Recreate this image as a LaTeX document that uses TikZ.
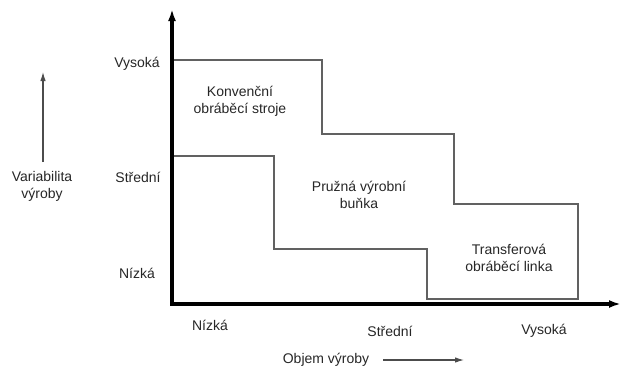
\documentclass[tikz,border=0pt]{standalone}
\usepackage{fontspec}
\setmainfont{Liberation Sans}
\usetikzlibrary{arrows.meta}
\begin{document}
\begin{tikzpicture}[x=1pt,y=-1pt,
  lbl/.style={inner sep=0pt,align=center,font=\fontsize{14}{17}\selectfont,text=black!85},
  stair/.style={draw=black!62,line width=1.3pt,line join=miter},
  axis/.style={draw=black,line width=3.2pt,line join=miter,{Latex[length=12pt,width=8pt]}-{Latex[length=12pt,width=8pt]}},
  small/.style={draw=black!70,line width=1.1pt,-{Latex[length=9pt,width=5.5pt]}}]
\useasboundingbox (0,0) rectangle (621,367);
% staircase regions
\draw[stair] (172,156) -- (274,156) -- (274,249) -- (427,249) -- (427,299) -- (578,299)
  -- (578,204) -- (454,204) -- (454,134) -- (322,134) -- (322,60) -- (172,60);
% axes
\coordinate (ytop) at (172,9);
\coordinate (org) at (172,304);
\coordinate (xend) at (621,304);
\draw[axis] (ytop) -- (org) -- (xend);
% region labels
\node[lbl] (konv) at (240,101) {Konvenční\\obráběcí stroje};
\node[lbl] (pruz) at (359,195) {Pružná výrobní\\buňka};
\node[lbl] (trans) at (509,258) {Transferová\\obráběcí linka};
% y labels
\node[lbl] (yv) at (137,64) {Vysoká};
\node[lbl] (ys) at (138,177) {Střední};
\node[lbl] (yn) at (137,273) {Nízká};
\node[lbl] (var) at (42,186) {Variabilita\\výroby};
\coordinate (va0) at (43,162);
\coordinate (va1) at (43,72);
\draw[small] (va0) -- (va1);
% x labels
\node[lbl] (xn) at (210,325) {Nízká};
\node[lbl] (xs) at (390,331) {Střední};
\node[lbl] (xv) at (544,331) {Vysoká};
\node[lbl] (obj) at (326,360) {Objem výroby};
\coordinate (oa0) at (383,360);
\coordinate (oa1) at (464,360);
\draw[small] (oa0) -- (oa1);
\end{tikzpicture}
\end{document}
